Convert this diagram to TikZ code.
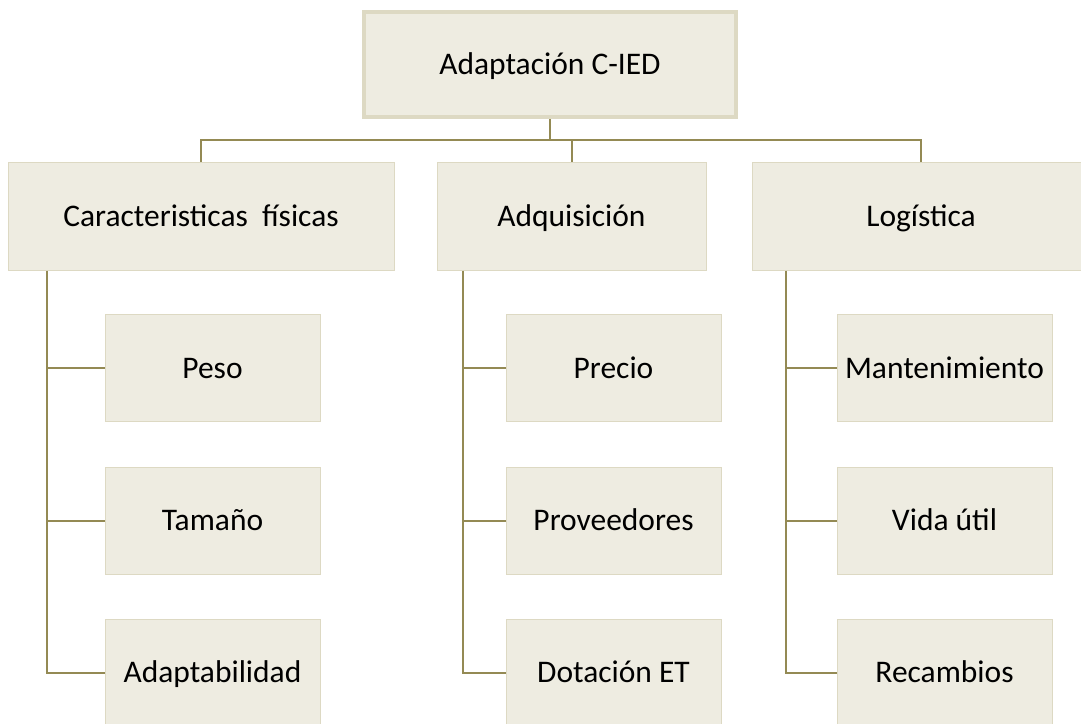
\documentclass[tikz,border=0pt]{standalone}
\usepackage{fontspec}
\setmainfont{Carlito}
\definecolor{tanfill}{HTML}{EEECE1}
\definecolor{tanborder}{HTML}{DDD9C3}
\definecolor{tanline}{HTML}{948A54}
\begin{document}
\begin{tikzpicture}[x=0.75pt,y=-0.75pt,
  box/.style={draw=tanborder,fill=tanfill,line width=0.75pt,inner sep=0pt,
    text height=15.2pt,text depth=0pt,
    font=\fontsize{23.6}{28}\selectfont,text=black},
  topbox/.style={box,line width=3pt,minimum width=279pt,minimum height=78.75pt},
  catbox/.style={box,minimum height=81pt},
  leafbox/.style={box,minimum width=161.25pt,minimum height=80.25pt},
  conn/.style={draw=tanline,line width=1.5pt}]
\useasboundingbox (0,0) rectangle (1081,724);
\node[topbox] (top) at (550,64.5) {Adaptación C-IED};
\node[catbox,minimum width=289.5pt] (c1) at (201,216) {Caracteristicas\ \ físicas};
\node[catbox,minimum width=201.75pt] (c2) at (571.5,216) {Adquisición};
\node[catbox,minimum width=253.5pt] (c3) at (921,216) {Logística};
\node[leafbox] (a1) at (212.5,368) {Peso};
\node[leafbox] (a2) at (212.5,520.5) {Tamaño};
\node[leafbox] (a3) at (212.5,672.5) {Adaptabilidad};
\node[leafbox] (b1) at (613.5,368) {Precio};
\node[leafbox] (b2) at (613.5,520.5) {Proveedores};
\node[leafbox] (b3) at (613.5,672.5) {Dotación ET};
\node[leafbox] (d1) at (944.5,368) {Mantenimiento};
\node[leafbox] (d2) at (944.5,520.5) {Vida útil};
\node[leafbox] (d3) at (944.5,672.5) {Recambios};
\coordinate (bus) at (0,140);
\coordinate (s1) at (47,0);
\coordinate (s2) at (463,0);
\coordinate (s3) at (786,0);
\draw[conn] (top.south) -- (top.south |- bus);
\draw[conn] (c1.north) -- (c1.north |- bus) -- (c3.north |- bus) -- (c3.north);
\draw[conn] (c2.north) -- (c2.north |- bus);
\draw[conn] (s1 |- c1.south) |- (a3.west);
\draw[conn] (s1 |- a1.west) -- (a1.west);
\draw[conn] (s1 |- a2.west) -- (a2.west);
\draw[conn] (s2 |- c2.south) |- (b3.west);
\draw[conn] (s2 |- b1.west) -- (b1.west);
\draw[conn] (s2 |- b2.west) -- (b2.west);
\draw[conn] (s3 |- c3.south) |- (d3.west);
\draw[conn] (s3 |- d1.west) -- (d1.west);
\draw[conn] (s3 |- d2.west) -- (d2.west);
\end{tikzpicture}
\end{document}
